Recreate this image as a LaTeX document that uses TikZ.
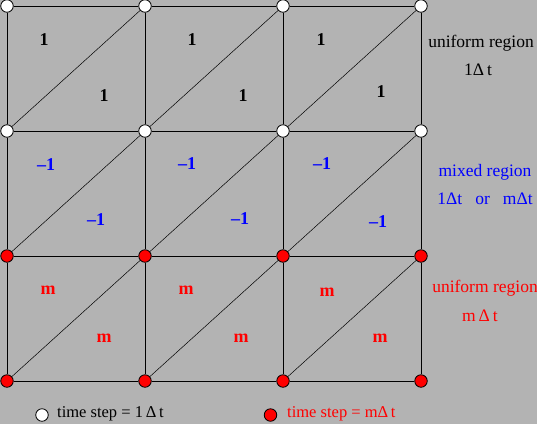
\documentclass[tikz,border=0pt]{standalone}
\usepackage{fontspec}
\setmainfont{Liberation Serif}
\definecolor{bg}{RGB}{179,179,179}
\begin{document}
\begin{tikzpicture}[x=1pt,y=-1pt,
  pt/.style={circle,draw=black,line width=0.8pt,minimum size=12.5pt,inner sep=0pt},
  wpt/.style={pt,fill=white},
  rpt/.style={pt,fill=red},
  gridline/.style={line width=1pt},
  diagline/.style={line width=0.5pt},
  lab/.style={font=\fontsize{18}{21}\selectfont\bfseries},
  txt/.style={font=\fontsize{17.5}{20}\selectfont},
  legtxt/.style={font=\fontsize{16.5}{19}\selectfont,anchor=west,inner sep=0pt}]
\fill[bg] (0,0) rectangle (537,424);
\useasboundingbox (0,0) rectangle (537,424);
% grid nodes
\foreach \i/\x in {0/7,1/145,2/283,3/421}{
  \foreach \j/\y in {0/6,1/131}{
    \node[wpt] (n\i\j) at (\x,\y) {};
  }
  \foreach \j/\y in {2/256,3/381}{
    \node[rpt] (n\i\j) at (\x,\y) {};
  }
}
% horizontal edges
\foreach \i/\k in {0/1,1/2,2/3}{
  \foreach \j in {0,1,2,3}{
    \draw[gridline] (n\i\j) -- (n\k\j);
  }
}
% vertical edges
\foreach \i in {0,1,2,3}{
  \foreach \j/\k in {0/1,1/2,2/3}{
    \draw[gridline] (n\i\j) -- (n\i\k);
  }
}
% diagonals
\foreach \i/\k in {0/1,1/2,2/3}{
  \foreach \j/\l in {0/1,1/2,2/3}{
    \draw[diagline] (n\i\l) -- (n\k\j);
  }
}
% cell labels
\foreach \p/\x/\y in {a/44/40,b/104/96,c/192/40,d/243/96,e/321/40,f/381/92}{
  \node[lab] (l\p) at (\x,\y) {1};
}
\foreach \p/\x/\y in {a/46/165,b/96/220,c/187/164,d/240/219,e/322/164,f/378/222}{
  \node[lab,text=blue] (k\p) at (\x,\y) {–1};
}
\foreach \p/\x/\y in {a/48/290,b/104/338,c/186/290,d/241/338,e/327/292,f/380/338}{
  \node[lab,text=red] (m\p) at (\x,\y) {m};
}
% right texts
\node[txt] (u1) at (481,43) {uniform region};
\node[txt] (u1b) at (478,70) {1Δ\,t};
\node[txt,text=blue] (mx) at (485,172) {mixed region};
\node[txt,text=blue] (mxb) at (485,199) {1Δt\hspace{0.75em}or\hspace{0.75em}mΔt};
\node[txt,text=red] (u2) at (485,288) {uniform region};
\node[txt,text=red] (u2b) at (480,316) {m\,Δ\,t};
% legend
\node[wpt] (leg1) at (42,415) {};
\node[legtxt] (legt1) at (57,414) {time step = 1\,Δ\,t};
\node[rpt] (leg2) at (270.5,415) {};
\node[legtxt,text=red] (legt2) at (287,414) {time step = mΔ\,t};
\end{tikzpicture}
\end{document}
